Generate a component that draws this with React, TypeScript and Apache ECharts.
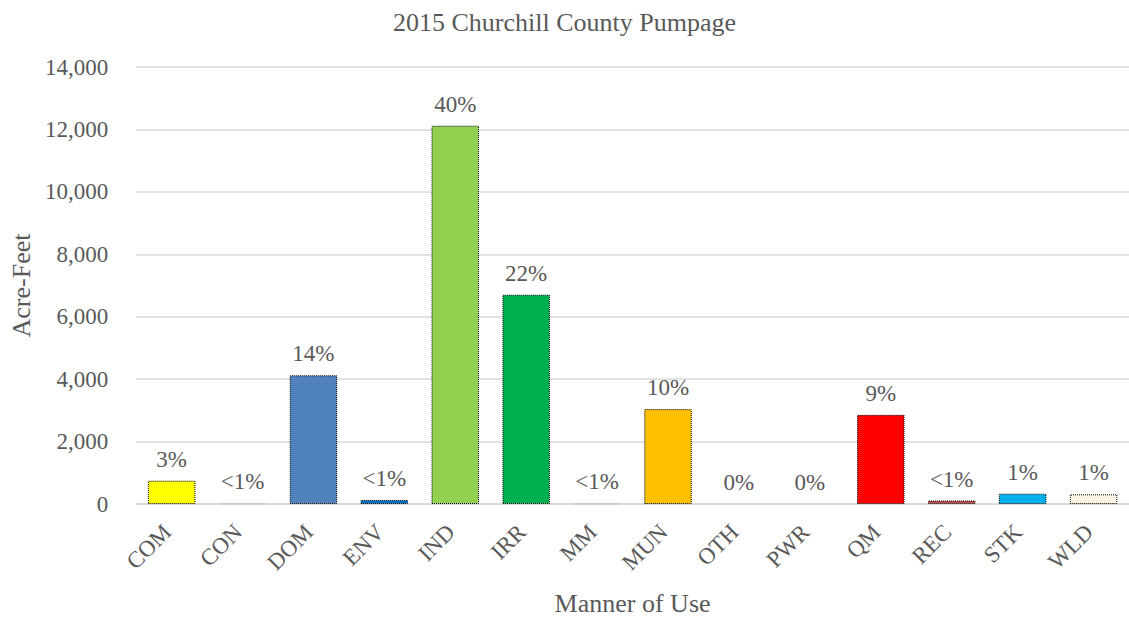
import React, { useEffect, useRef } from "react";
import * as echarts from "echarts";

const categories = ["COM", "CON", "DOM", "ENV", "IND", "IRR", "MM", "MUN", "OTH", "PWR", "QM", "REC", "STK", "WLD"];
const values = [746, 6, 4122, 130, 12119, 6705, 6, 3040, 0, 0, 2856, 112, 330, 310];
const pctLabels = ["3%", "<1%", "14%", "<1%", "40%", "22%", "<1%", "10%", "0%", "0%", "9%", "<1%", "1%", "1%"];
const barColors = ["#FFFF00", "#D9D9D9", "#4F81BD", "#0070C0", "#92D050", "#00B050", "#D9D9D9", "#FFC000", "#FFFFFF", "#FFFFFF", "#FF0000", "#C0504D", "#00B0F0", "#FDF3E3"];
const borderColors = ["#000", "#BFBFBF", "#000", "#000", "#000", "#000", "#BFBFBF", "#000", "transparent", "transparent", "#000", "#000", "#000", "#000"];
const yTicks = { min: 0, max: 14000, interval: 2000 };

const FONT = "'Liberation Serif', 'Times New Roman', serif";
const TXT = "#595959";

export default function App() {
  const ref = useRef<HTMLDivElement>(null);
  useEffect(() => {
    if (!ref.current) return;
    const chart = echarts.init(ref.current, undefined, { renderer: "svg" });
    chart.setOption({
      animation: false,
      backgroundColor: "#ffffff",
      textStyle: { fontFamily: FONT },
      title: {
        text: "2015 Churchill County Pumpage",
        left: "center",
        top: 4,
        textStyle: { fontFamily: FONT, fontSize: 26, fontWeight: "normal", color: TXT },
      },
      grid: { left: 136, top: 67, width: 1003, height: 437, containLabel: false },
      xAxis: {
        type: "category",
        data: categories,
        name: "Manner of Use",
        nameLocation: "middle",
        nameGap: 86,
        nameTextStyle: { fontFamily: FONT, fontSize: 26, color: TXT },
        axisLine: { show: true, lineStyle: { color: "#D9D9D9", width: 1.5 } },
        axisTick: { show: false },
        axisLabel: {
          interval: 0,
          rotate: 45,
          fontFamily: FONT,
          fontSize: 23,
          color: TXT,
          margin: 20,
          padding: [0, 6, 0, 0],
        },
      },
      yAxis: {
        type: "value",
        min: yTicks.min,
        max: yTicks.max,
        interval: yTicks.interval,
        name: "Acre-Feet",
        nameLocation: "middle",
        nameGap: 102,
        nameRotate: 90,
        nameTextStyle: { fontFamily: FONT, fontSize: 26, color: TXT },
        axisLine: { show: false },
        axisTick: { show: false },
        splitLine: { lineStyle: { color: "#D9D9D9", width: 1.5 } },
        axisLabel: {
          fontFamily: FONT,
          fontSize: 23,
          color: TXT,
          margin: 28,
          formatter: (v: number) => v.toLocaleString("en-US"),
        },
      },
      series: [
        {
          type: "bar",
          barWidth: "67%",
          data: values.map((v, i) => ({
            value: v,
            itemStyle: {
              color: barColors[i],
              borderColor: borderColors[i],
              borderWidth: 1,
              borderType: "dotted",
            },
          })),
          label: {
            show: true,
            position: "top",
            distance: 10,
            fontFamily: FONT,
            fontSize: 23,
            color: TXT,
            formatter: (p: any) => pctLabels[p.dataIndex],
          },
        },
      ],
    });
    return () => chart.dispose();
  }, []);
  return (
    <div
      ref={ref}
      style={{ position: "fixed", left: 0, top: 0, width: 1129, height: 621, background: "#fff" }}
    />
  );
}
